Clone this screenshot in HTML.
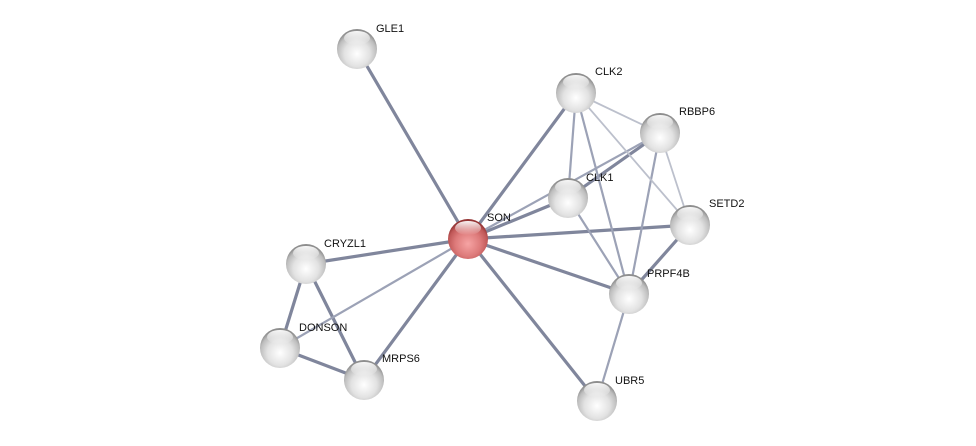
<!DOCTYPE html>
<html><head><meta charset="utf-8"><style>html,body{margin:0;padding:0;background:#fff}svg{display:block}</style></head>
<body>
<svg width="976" height="446" viewBox="0 0 976 446" xmlns="http://www.w3.org/2000/svg">
<defs>
<radialGradient id="g" cx="0.5" cy="0.62" r="0.58">
<stop offset="0" stop-color="#ffffff"/><stop offset="0.55" stop-color="#e2e2e2"/><stop offset="0.85" stop-color="#bdbdbd"/><stop offset="1" stop-color="#8e8e8e"/>
</radialGradient>
<radialGradient id="r" cx="0.5" cy="0.62" r="0.58">
<stop offset="0" stop-color="#f6a4a4"/><stop offset="0.55" stop-color="#dd7a7a"/><stop offset="0.85" stop-color="#c05858"/><stop offset="1" stop-color="#943434"/>
</radialGradient>
<linearGradient id="h" x1="0" y1="0" x2="0" y2="1">
<stop offset="0" stop-color="#fff" stop-opacity="0.95"/><stop offset="1" stop-color="#fff" stop-opacity="0"/>
</linearGradient>
</defs>
<g stroke-linecap="round">
<g stroke="#80869c" stroke-width="3.2">
<line x1="468" y1="239" x2="357" y2="49"/>
<line x1="468" y1="239" x2="576" y2="93"/>
<line x1="468" y1="239" x2="568" y2="198"/>
<line x1="468" y1="239" x2="690" y2="225"/>
<line x1="468" y1="239" x2="629" y2="294"/>
<line x1="468" y1="239" x2="597" y2="401"/>
<line x1="468" y1="239" x2="306" y2="264"/>
<line x1="468" y1="239" x2="364" y2="380"/>
<line x1="568" y1="198" x2="660" y2="133"/>
<line x1="690" y1="225" x2="629" y2="294"/>
<line x1="306" y1="264" x2="280" y2="348"/>
<line x1="306" y1="264" x2="364" y2="380"/>
<line x1="280" y1="348" x2="364" y2="380"/>
</g>
<g stroke="#9ca2b6" stroke-width="2.2">
<line x1="468" y1="239" x2="660" y2="133"/>
<line x1="468" y1="239" x2="280" y2="348"/>
<line x1="576" y1="93" x2="568" y2="198"/>
<line x1="576" y1="93" x2="629" y2="294"/>
<line x1="568" y1="198" x2="629" y2="294"/>
<line x1="629" y1="294" x2="597" y2="401"/>
<line x1="660" y1="133" x2="629" y2="294"/>
</g>
<g stroke="#bcc0cc" stroke-width="1.8">
<line x1="576" y1="93" x2="660" y2="133"/>
<line x1="576" y1="93" x2="690" y2="225"/>
<line x1="660" y1="133" x2="690" y2="225"/>
</g>
</g>
<g>
<g transform="translate(357,49)"><circle r="20" fill="url(#g)"/><ellipse cx="0" cy="-11" rx="13" ry="7" fill="url(#h)"/></g>
<g transform="translate(576,93)"><circle r="20" fill="url(#g)"/><ellipse cx="0" cy="-11" rx="13" ry="7" fill="url(#h)"/></g>
<g transform="translate(660,133)"><circle r="20" fill="url(#g)"/><ellipse cx="0" cy="-11" rx="13" ry="7" fill="url(#h)"/></g>
<g transform="translate(568,198)"><circle r="20" fill="url(#g)"/><ellipse cx="0" cy="-11" rx="13" ry="7" fill="url(#h)"/></g>
<g transform="translate(690,225)"><circle r="20" fill="url(#g)"/><ellipse cx="0" cy="-11" rx="13" ry="7" fill="url(#h)"/></g>
<g transform="translate(468,239)"><circle r="20" fill="url(#r)"/><ellipse cx="0" cy="-11" rx="13" ry="7" fill="url(#h)"/></g>
<g transform="translate(306,264)"><circle r="20" fill="url(#g)"/><ellipse cx="0" cy="-11" rx="13" ry="7" fill="url(#h)"/></g>
<g transform="translate(629,294)"><circle r="20" fill="url(#g)"/><ellipse cx="0" cy="-11" rx="13" ry="7" fill="url(#h)"/></g>
<g transform="translate(280,348)"><circle r="20" fill="url(#g)"/><ellipse cx="0" cy="-11" rx="13" ry="7" fill="url(#h)"/></g>
<g transform="translate(364,380)"><circle r="20" fill="url(#g)"/><ellipse cx="0" cy="-11" rx="13" ry="7" fill="url(#h)"/></g>
<g transform="translate(597,401)"><circle r="20" fill="url(#g)"/><ellipse cx="0" cy="-11" rx="13" ry="7" fill="url(#h)"/></g>
</g>
<g font-family="Liberation Sans, sans-serif" font-size="11" fill="#111">
<text x="376" y="32">GLE1</text>
<text x="595" y="75">CLK2</text>
<text x="679" y="115">RBBP6</text>
<text x="586" y="181">CLK1</text>
<text x="709" y="207">SETD2</text>
<text x="487" y="221">SON</text>
<text x="324" y="247">CRYZL1</text>
<text x="647" y="277">PRPF4B</text>
<text x="299" y="331">DONSON</text>
<text x="382" y="362">MRPS6</text>
<text x="615" y="384">UBR5</text>
</g>
</svg>
</body></html>
